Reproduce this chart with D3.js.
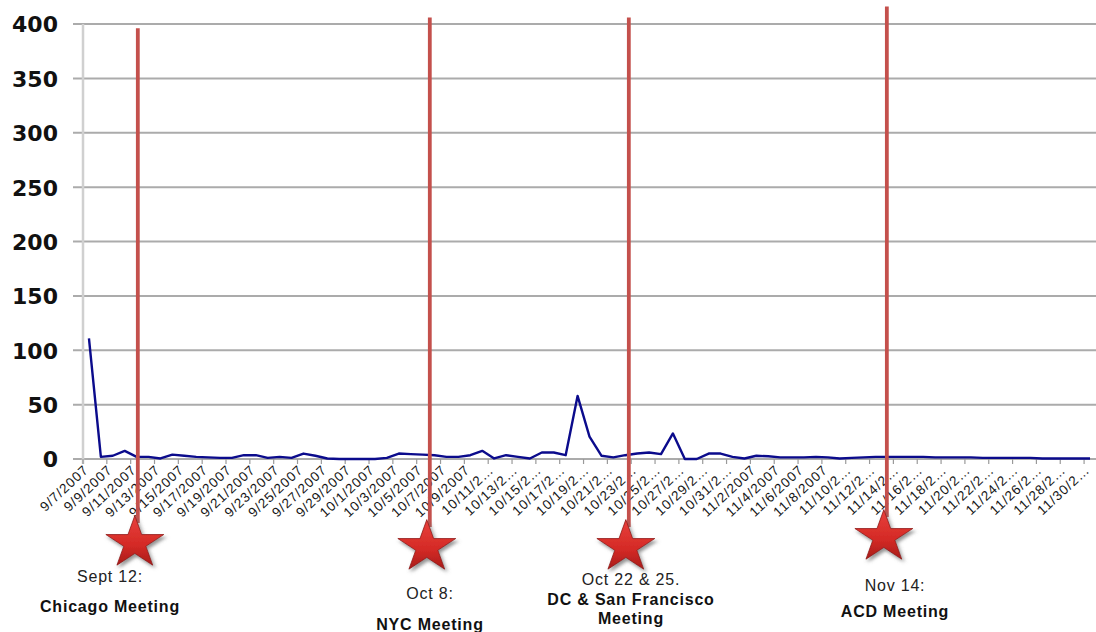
<!DOCTYPE html>
<html>
<head>
<meta charset="utf-8">
<script src="https://cdn.jsdelivr.net/npm/d3@7"></script>
<style>
  html, body { margin: 0; padding: 0; background: #fff; }
  svg { display: block; }
</style>
</head>
<body>
<svg id="chart" width="1096" height="632"></svg>
<script>
// Daily counts, 9/7/2007 – 11/30/2007
const categories = [
  "9/7/2007","9/8/2007","9/9/2007","9/10/2007","9/11/2007","9/12/2007","9/13/2007","9/14/2007",
  "9/15/2007","9/16/2007","9/17/2007","9/18/2007","9/19/2007","9/20/2007","9/21/2007","9/22/2007",
  "9/23/2007","9/24/2007","9/25/2007","9/26/2007","9/27/2007","9/28/2007","9/29/2007","9/30/2007",
  "10/1/2007","10/2/2007","10/3/2007","10/4/2007","10/5/2007","10/6/2007","10/7/2007","10/8/2007",
  "10/9/2007","10/10/2007","10/11/2007","10/12/2007","10/13/2007","10/14/2007","10/15/2007","10/16/2007",
  "10/17/2007","10/18/2007","10/19/2007","10/20/2007","10/21/2007","10/22/2007","10/23/2007","10/24/2007",
  "10/25/2007","10/26/2007","10/27/2007","10/28/2007","10/29/2007","10/30/2007","10/31/2007",
  "11/1/2007","11/2/2007","11/3/2007","11/4/2007","11/5/2007","11/6/2007","11/7/2007","11/8/2007",
  "11/9/2007","11/10/2007","11/11/2007","11/12/2007","11/13/2007","11/14/2007","11/15/2007","11/16/2007",
  "11/17/2007","11/18/2007","11/19/2007","11/20/2007","11/21/2007","11/22/2007","11/23/2007","11/24/2007",
  "11/25/2007","11/26/2007","11/27/2007","11/28/2007","11/29/2007","11/30/2007"
];

const counts = [
  111, 2, 3, 7.5, 2, 2, 0.5, 4, 3, 2,
  1.5, 1, 1, 3.5, 3.5, 1, 2, 1, 5, 3,
  0.5, 0, 0, 0, 0, 1, 5, 4.5, 4, 3.5,
  2, 2, 3.5, 7.5, 0.5, 3.5, 2, 0.5, 6, 6,
  3.5, 58, 20.5, 3, 1.5, 3.5, 5, 6, 4.5, 23.5,
  0, 0, 5, 5, 2, 0.5, 3, 2.5, 1.5, 1.5,
  1.5, 2, 1.5, 0.5, 1, 1.5, 2, 2, 2, 2,
  2, 1.5, 1.5, 1.5, 1.5, 1, 1, 1, 1, 1,
  0.5, 0.5, 0.5, 0.5, 0.5
];

// Labels shown on every second day
const tickLabels = [
  "9/7/2007","9/9/2007","9/11/2007","9/13/2007","9/15/2007","9/17/2007","9/19/2007","9/21/2007",
  "9/23/2007","9/25/2007","9/27/2007","9/29/2007","10/1/2007","10/3/2007","10/5/2007","10/7/2007",
  "10/9/2007","10/11/2…","10/13/2…","10/15/2…","10/17/2…","10/19/2…","10/21/2…","10/23/2…",
  "10/25/2…","10/27/2…","10/29/2…","10/31/2…","11/2/2007","11/4/2007","11/6/2007","11/8/2007",
  "11/10/2…","11/12/2…","11/14/2…","11/16/2…","11/18/2…","11/20/2…","11/22/2…","11/24/2…",
  "11/26/2…","11/28/2…","11/30/2…"
];

const yTicks = [0, 50, 100, 150, 200, 250, 300, 350, 400];

// Meeting markers: position along the day axis and how high the pin reaches
const meetingPos = [4.6, 29.1, 45.8, 67.45];
const meetingTop = [396, 406, 406, 416];
const meetingDate = ["Sept 12:", "Oct 8:", "Oct 22 & 25.", "Nov 14:"];
const meetingName = [["Chicago Meeting"], ["NYC Meeting"], ["DC & San Francisco", "Meeting"], ["ACD Meeting"]];

const svg = d3.select("#chart");
const plot = { left: 83, right: 1096, top: 24, bottom: 459 };

const x = d3.scaleLinear().domain([0, categories.length]).range([plot.left, plot.right]);
const y = d3.scaleLinear().domain([0, 400]).range([plot.bottom, plot.top]);

// drop shadow and shading for the stars
const defs = svg.append("defs");
const f = defs.append("filter").attr("id", "starShadow")
  .attr("x", "-40%").attr("y", "-40%").attr("width", "180%").attr("height", "180%");
f.append("feDropShadow").attr("dx", 2).attr("dy", 3).attr("stdDeviation", 2)
  .attr("flood-color", "#666").attr("flood-opacity", 0.7);
const g = defs.append("linearGradient").attr("id", "starFill")
  .attr("x1", 0).attr("y1", 0).attr("x2", 0).attr("y2", 1);
g.append("stop").attr("offset", "0%").attr("stop-color", "#e8403c");
g.append("stop").attr("offset", "60%").attr("stop-color", "#d42a26");
g.append("stop").attr("offset", "100%").attr("stop-color", "#a81c1a");

// horizontal gridlines
svg.append("g").selectAll("line").data(yTicks).join("line")
  .attr("x1", plot.left - 10).attr("x2", plot.right)
  .attr("y1", d => y(d)).attr("y2", d => y(d))
  .attr("stroke", "#ababab").attr("stroke-width", 2);

// vertical axis line
svg.append("line")
  .attr("x1", plot.left).attr("x2", plot.left)
  .attr("y1", plot.top).attr("y2", plot.bottom + 5)
  .attr("stroke", "#d0d0d0").attr("stroke-width", 2.5);

// y labels
const yAxis = d3.axisLeft(y).tickValues(yTicks).tickSize(0).tickPadding(0);
const yg = svg.append("g").attr("transform", "translate(58,0)").call(yAxis);
yg.select(".domain").remove();
yg.selectAll("text")
  .attr("font-family", "'DejaVu Sans', Verdana, sans-serif")
  .attr("font-weight", "bold").attr("font-size", 22).attr("fill", "#111")
  .attr("dy", "0.36em");

// tick marks every two days
const tickBounds = d3.range(0, categories.length + 1, 2);
svg.append("g").selectAll("line").data(tickBounds).join("line")
  .attr("x1", d => x(d)).attr("x2", d => x(d))
  .attr("y1", plot.bottom).attr("y2", plot.bottom + 5)
  .attr("stroke", "#9a9a9a").attr("stroke-width", 1.2);

// rotated date labels
const labelIdx = d3.range(0, categories.length, 2);
const xAxis = d3.axisBottom(x)
  .tickValues(labelIdx.map(i => i + 0.5))
  .tickFormat((d, k) => tickLabels[k])
  .tickSize(0).tickPadding(0);
const xg = svg.append("g").attr("transform", `translate(0,${plot.bottom})`).call(xAxis);
xg.select(".domain").remove();
xg.selectAll("text")
  .attr("font-family", "'Liberation Sans', Arial, sans-serif")
  .attr("font-size", 13.5).attr("fill", "#151515")
  .attr("letter-spacing", 1.0)
  .attr("text-anchor", "end")
  .attr("y", 0).attr("dy", 0)
  .attr("transform", "translate(0,12) rotate(-43)");

// data line
const line = d3.line().x((d, i) => x(i + 0.5)).y(d => y(d));
svg.append("path").datum(counts)
  .attr("d", line).attr("fill", "none")
  .attr("stroke", "#0b0b8c").attr("stroke-width", 2.4)
  .attr("stroke-linejoin", "round");

// meeting pins
const starCenterY = [543, 547, 547, 537];
const pins = svg.append("g");
const starPath = d3.symbol(d3.symbolStar, 1040)();
meetingPos.forEach((p, k) => {
  const px = x(p);
  const sy = starCenterY[k];
  pins.append("line")
    .attr("x1", px).attr("x2", px)
    .attr("y1", y(meetingTop[k])).attr("y2", sy - 20)
    .attr("stroke", "#c4504c").attr("stroke-width", 3.8);
  pins.append("path")
    .attr("d", starPath)
    .attr("transform", `translate(${px - 3},${sy}) scale(1,0.9)`)
    .attr("fill", "url(#starFill)")
    .attr("stroke", "#8e1513").attr("stroke-width", 0.8)
    .attr("filter", "url(#starShadow)");
});

// meeting captions
const capFont = "'Liberation Sans', Arial, sans-serif";
const capLayout = [
  { cx: 110, dateY: 582, nameY: [612] },
  { cx: 430, dateY: 599, nameY: [630] },
  { cx: 631, dateY: 585, nameY: [605, 624] },
  { cx: 895, dateY: 591, nameY: [617] }
];
capLayout.forEach((c, k) => {
  svg.append("text").attr("x", c.cx).attr("y", c.dateY)
    .attr("text-anchor", "middle").attr("font-family", capFont)
    .attr("font-size", 16).attr("letter-spacing", 0.8).attr("fill", "#222")
    .text(meetingDate[k]);
  meetingName[k].forEach((t, j) => {
    svg.append("text").attr("x", c.cx).attr("y", c.nameY[j])
      .attr("text-anchor", "middle").attr("font-family", capFont)
      .attr("font-weight", "bold")
      .attr("font-size", 16).attr("letter-spacing", 0.8).attr("fill", "#111")
      .text(t);
  });
});
</script>
</body>
</html>
